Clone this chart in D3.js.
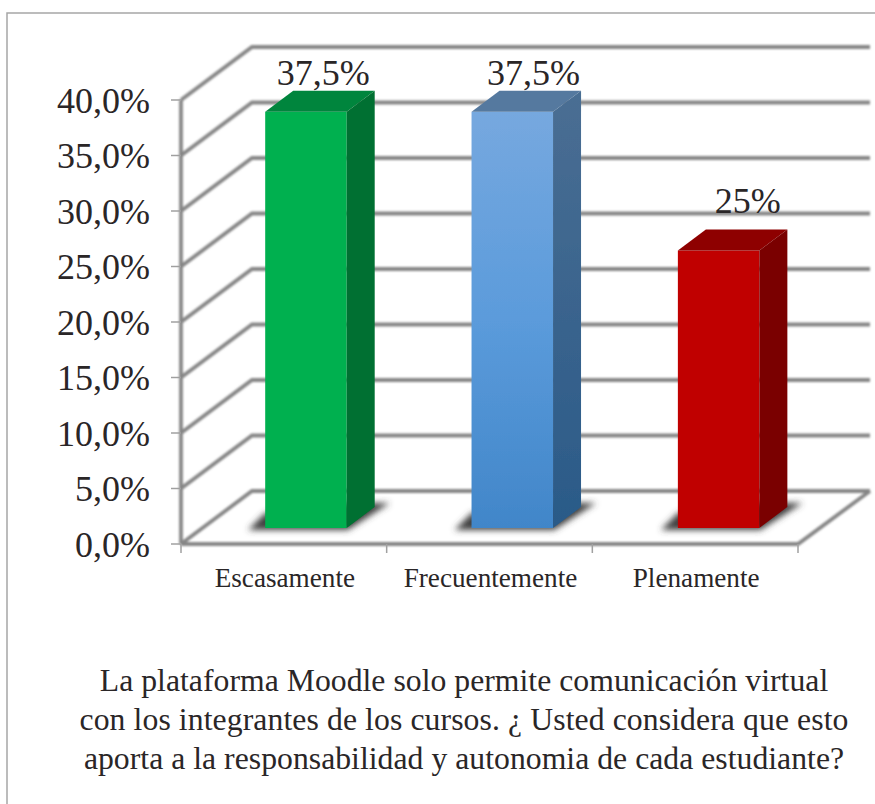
<!DOCTYPE html>
<html><head><meta charset="utf-8">
<script src="https://cdn.jsdelivr.net/npm/d3@7"></script>
<style>html,body{margin:0;padding:0;background:#fff}svg{display:block}text{font-family:"Liberation Serif",serif;fill:#2a2627}</style>
</head><body><svg id="c" width="875" height="804"></svg>
<script>
const categories = ["Escasamente","Frecuentemente","Plenamente"];
const values = [37.5,37.5,25];
const valueLabels = ["37,5%","37,5%","25%"];
const yTicks = [0,5,10,15,20,25,30,35,40];
const yTickLabels = ["0,0%","5,0%","10,0%","15,0%","20,0%","25,0%","30,0%","35,0%","40,0%"];
const caption = ["La plataforma Moodle solo permite comunicación virtual","con los integrantes de los cursos. ¿ Usted considera que esto","aporta a la responsabilidad y autonomia de cada estudiante?"];

// styling and layout, kept apart from the data
const frontColors = ["#00b050","url(#blue)","#c00000"];
const topColors = ["#00853c","#55799f","#8e0000"];
const sideColors = ["#006f30","url(#blueSide)","#7a0000"];
const labelDX = [58,62,70], labelDY = [-27,-27,-38];
const captionSpacing = [0.03,0.1,0.03];

const svg = d3.select("#c");
const defs = svg.append("defs");
const g = defs.append("linearGradient").attr("id","blue").attr("x1",0).attr("y1",0).attr("x2",0).attr("y2",1);
g.append("stop").attr("offset","0%").attr("stop-color","#76a8df");
g.append("stop").attr("offset","50%").attr("stop-color","#5b9bdb");
g.append("stop").attr("offset","100%").attr("stop-color","#4186c9");
const gs = defs.append("linearGradient").attr("id","blueSide").attr("x1",0).attr("y1",0).attr("x2",0).attr("y2",1);
gs.append("stop").attr("offset","0%").attr("stop-color","#4a6e93");
gs.append("stop").attr("offset","100%").attr("stop-color","#2a5a88");
const filt = (id,sd)=>defs.append("filter").attr("id",id).attr("filterUnits","userSpaceOnUse")
  .attr("x",0).attr("y",0).attr("width",875).attr("height",804)
  .append("feGaussianBlur").attr("stdDeviation",sd);
filt("blur",3); filt("soft",0.8); filt("edge",0.5);

const x = d3.scaleBand().domain(categories).range([181,798]);
const xBar = d3.scaleBand().domain(categories).range([181,800]);
const y = d3.scaleLinear().domain([0,40]).range([544,100]);
const depthX = 71, depthY = -53;
const barInset = 84.2, barW = 81.5, barBaseUp = 16, barDX = 28, barDY = -21;

// outer frame
svg.append("path").attr("d","M875 13H7V804").attr("fill","none").attr("stroke","#a6a6a6").attr("stroke-width",1.5);

// walls
const walls = svg.append("g").attr("filter","url(#soft)").attr("fill","none").attr("stroke","#868686").attr("stroke-width",3.8);
yTicks.forEach(t=>{
  walls.append("path").attr("d",d3.line()([[x.range()[0],y(t)],[x.range()[0]+depthX,y(t)+depthY],[x.range()[1]+depthX+1,y(t)+depthY]]));
});
walls.append("path").attr("d",d3.line()([[x.range()[0],y(0)],[x.range()[0],y(40)]]));
walls.append("path").attr("d",d3.line()([[x.range()[0],y(0)],[x.range()[1],y(0)],[x.range()[1]+depthX+1,y(0)+depthY]]));
// ticks
const ticks = svg.append("g").attr("stroke","#a0a0a0").attr("stroke-width",1.5);
yTicks.forEach(t=>ticks.append("line").attr("x1",171).attr("x2",181).attr("y1",y(t)).attr("y2",y(t)));
[...categories.map(c=>x(c)),x.range()[1]].forEach(v=>ticks.append("line").attr("x1",v).attr("x2",v).attr("y1",y(0)).attr("y2",y(0)+9));

// bars
categories.forEach((c,i)=>{
  const l = xBar(c)+barInset, r = l+barW, b = y(0)-barBaseUp, t = b-(y(0)-y(values[i]));
  svg.append("path").attr("d",`M${l-17} ${b+2}L${r+1} ${b+2}L${r+43} ${b-25}L${r} ${b-25}L${l} ${b-15}Z`)
    .attr("fill","#404040").attr("filter","url(#blur)");
  const bar = svg.append("g").attr("filter","url(#edge)");
  bar.append("rect").attr("x",l).attr("y",t).attr("width",barW).attr("height",b-t).attr("fill",frontColors[i]);
  bar.append("path").attr("d",`M${l} ${t}L${l+barDX} ${t+barDY}H${r+barDX}L${r} ${t}Z`).attr("fill",topColors[i]);
  bar.append("path").attr("d",`M${r} ${t}L${r+barDX} ${t+barDY}V${b+barDY}L${r} ${b}Z`).attr("fill",sideColors[i]);
  svg.append("text").attr("x",l+labelDX[i]).attr("y",t+labelDY[i]).attr("text-anchor","middle").attr("font-size",36).text(valueLabels[i]);
  svg.append("text").attr("x",x(c)+x.bandwidth()/2+1).attr("y",587).attr("text-anchor","middle").attr("font-size",27.2).text(c);
});
yTicks.forEach((t,i)=>svg.append("text").attr("x",150).attr("y",y(t)+12.5).attr("text-anchor","end").attr("font-size",36).text(yTickLabels[i]));
caption.forEach((s,i)=>svg.append("text").attr("x",464).attr("y",690.5+i*39).attr("text-anchor","middle").attr("font-size",31.7).attr("letter-spacing",captionSpacing[i]).text(s));
</script></body></html>
